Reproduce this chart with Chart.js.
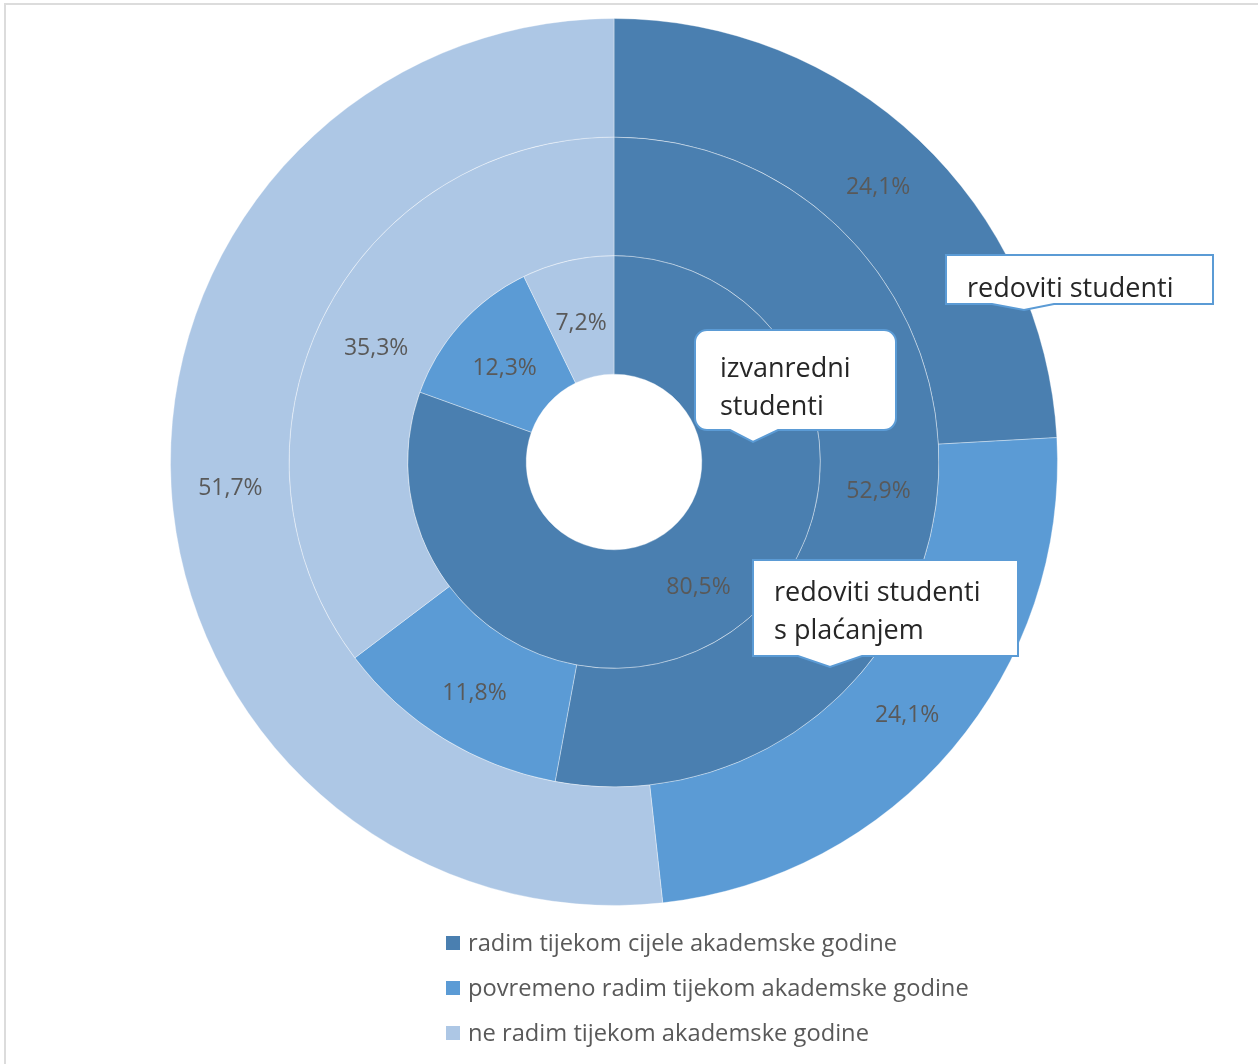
<!DOCTYPE html>
<html>
<head>
<meta charset="utf-8">
<script src="https://cdn.jsdelivr.net/npm/chart.js@4.4.1/dist/chart.umd.min.js"></script>
<style>
  html, body { margin: 0; padding: 0; background: #ffffff; overflow: hidden; }
  #wrap { position: relative; width: 1258px; height: 1064px; overflow: hidden; }
  #frame { position: absolute; left: 4px; top: 3px; width: 1400px; height: 1200px; border-left: 2px solid #dcdcdc; border-top: 2px solid #dcdcdc; box-sizing: border-box; }
  #c { position: absolute; left: 0; top: 0; }
  #legend { position: absolute; left: 446px; top: 920px; font-family: "Open Sans", sans-serif; font-size: 23.7px; color: #595959; }
  .li { display: flex; align-items: center; height: 45px; line-height: 45px; }
  .sw { width: 14px; height: 14px; margin-right: 8px; }
</style>
</head>
<body>
<div id="wrap">
  <div id="frame"></div>
  <canvas id="c" width="1258" height="1064"></canvas>
  <div id="legend"></div>
</div>
<script>
const categories = ['radim tijekom cijele akademske godine', 'povremeno radim tijekom akademske godine', 'ne radim tijekom akademske godine'];
const seriesNames = ['redoviti studenti', 'redoviti studenti s plaćanjem', 'izvanredni studenti'];
const redovitiValues = [24.1, 24.1, 51.7];
const placanjeValues = [52.9, 11.8, 35.3];
const izvanredniValues = [80.5, 12.3, 7.2];
const colors = ['#4a7fb0', '#5b9bd5', '#adc7e5'];

// legend
const legendEl = document.getElementById('legend');
categories.forEach((cat, i) => {
  const row = document.createElement('div');
  row.className = 'li';
  const sw = document.createElement('span');
  sw.className = 'sw';
  sw.style.background = colors[i];
  const tx = document.createElement('span');
  tx.textContent = cat;
  row.appendChild(sw);
  row.appendChild(tx);
  legendEl.appendChild(row);
});

function fmt(v) { return v.toFixed(1).replace('.', ',') + '%'; }

const labelPlugin = {
  id: 'sliceLabels',
  afterDatasetsDraw(chart) {
    const ctx = chart.ctx;
    ctx.save();
    ctx.font = '23px "Open Sans", sans-serif';
    ctx.fillStyle = '#595959';
    ctx.textAlign = 'center';
    ctx.textBaseline = 'middle';
    chart.data.datasets.forEach((ds, di) => {
      const meta = chart.getDatasetMeta(di);
      meta.data.forEach((arc, i) => {
        const p = arc.tooltipPosition();
        ctx.fillText(fmt(ds.data[i]), p.x, p.y + 5);
      });
    });
    ctx.restore();
  }
};

// callouts: offsets relative to the chart centre
const callouts = [
  { lines: ['redoviti studenti'], dx: 332, dy: -207, w: 267, h: 49, tipDx: 410, tipDy: -152, baseL: 378, baseR: 440, r: 0, pad: 21, first: 42 },
  { lines: ['izvanredni', 'studenti'], dx: 81, dy: -132, w: 201, h: 100, tipDx: 139, tipDy: -20, baseL: 116, baseR: 164, r: 12, pad: 25, first: 47 },
  { lines: ['redoviti studenti', 's plaćanjem'], dx: 139, dy: 98, w: 265, h: 96, tipDx: 216, tipDy: 205, baseL: 184, baseR: 248, r: 0, pad: 21, first: 41 }
];

const calloutPlugin = {
  id: 'callouts',
  afterDraw(chart) {
    const meta = chart.getDatasetMeta(0);
    const arc = meta.data[0];
    const cx = arc.x, cy = arc.y;
    const ctx = chart.ctx;
    ctx.save();
    callouts.forEach((c) => {
      const x = cx + c.dx, y = cy + c.dy, w = c.w, h = c.h, r = c.r;
      ctx.beginPath();
      ctx.moveTo(x + r, y);
      ctx.lineTo(x + w - r, y);
      if (r) ctx.arcTo(x + w, y, x + w, y + r, r);
      ctx.lineTo(x + w, y + h - r);
      if (r) ctx.arcTo(x + w, y + h, x + w - r, y + h, r);
      ctx.lineTo(cx + c.baseR, y + h);
      ctx.lineTo(cx + c.tipDx, cy + c.tipDy);
      ctx.lineTo(cx + c.baseL, y + h);
      ctx.lineTo(x + r, y + h);
      if (r) ctx.arcTo(x, y + h, x, y + h - r, r);
      ctx.lineTo(x, y + r);
      if (r) ctx.arcTo(x, y, x + r, y, r);
      ctx.closePath();
      ctx.fillStyle = '#ffffff';
      ctx.fill();
      ctx.lineWidth = 2;
      ctx.strokeStyle = '#5b9bd5';
      ctx.stroke();
      ctx.fillStyle = '#262626';
      ctx.font = '27px "Open Sans", sans-serif';
      ctx.textAlign = 'left';
      ctx.textBaseline = 'alphabetic';
      const lh = 38;
      c.lines.forEach((ln, li) => {
        ctx.fillText(ln, x + c.pad, y + c.first + li * lh);
      });
    });
    ctx.restore();
  }
};

const border = 'rgba(255,255,255,0.35)';
new Chart(document.getElementById('c'), {
  type: 'doughnut',
  data: {
    labels: categories,
    datasets: [
      { label: seriesNames[0], data: redovitiValues, backgroundColor: colors, borderColor: border, borderWidth: 1 },
      { label: seriesNames[1], data: placanjeValues, backgroundColor: colors, borderColor: border, borderWidth: 1 },
      { label: seriesNames[2], data: izvanredniValues, backgroundColor: colors, borderColor: border, borderWidth: 1 }
    ]
  },
  options: {
    responsive: false,
    animation: false,
    cutout: '19.8%',
    layout: { padding: { left: 170, right: 200, top: 18, bottom: 158 } },
    plugins: {
      legend: { display: false },
      tooltip: { enabled: false }
    }
  },
  plugins: [labelPlugin, calloutPlugin]
});
</script>
</body>
</html>
